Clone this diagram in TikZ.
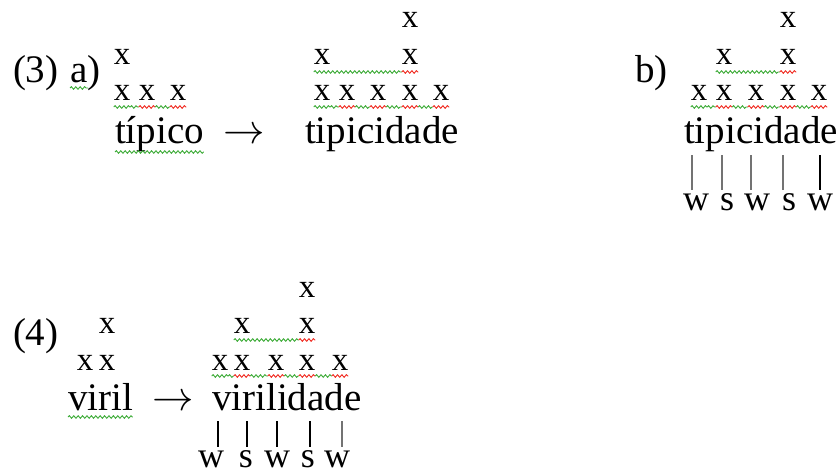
\documentclass[tikz,border=0pt]{standalone}
\usepackage{fontspec}
\setmainfont{Liberation Serif}
\usetikzlibrary{decorations.pathmorphing}
\definecolor{spellgreen}{HTML}{3AAA35}
\definecolor{spellred}{HTML}{F0281E}

\begin{document}
\begin{tikzpicture}[x=0.5pt, y=-0.5pt,
        txt/.style={inner sep=0pt, outer sep=0pt, anchor=base,
            font=\fontsize{19.5}{23}\selectfont},
        word/.style={txt, anchor=base west},
        gridx/.style={txt, font=\fontsize{16.5}{20}\selectfont},
        metlab/.style={txt, font=\fontsize{18}{21}\selectfont},
        squig/.style={draw=#1, line width=0.45pt, decorate,
            decoration={snake, segment length=2.2pt, amplitude=0.65pt}},
        bar/.style={draw=#1, line width=0.7pt}]
        \def\topy{28}
        \def\midy{65}
        \def\boty{101}
        \def\wordy{143}
        \def\greencol{spellgreen}
        \def\redcol{spellred}

        % page size
        \useasboundingbox (0, 0) rectangle (840, 476);

        % (3) a) tipico -> tipicidade
        \node [word] (numThree) at (13, 83) {(3)};
        \node [word] (labA) at (70, 83) {a)};
        \draw [squig=\greencol] ([yshift=-2.5pt]labA.base west) -- ++(18, 0);

        \node [word] (tipico) at (115, \wordy) {típico};
        \draw [squig=\greencol] ([yshift=-4.5pt]tipico.base west)
            -- ([yshift=-4.5pt]tipico.base east);
        \node [gridx] (tipTop) at (122, \midy) {x};
        \foreach \c [count=\i] in {122, 147, 178}
            \node [gridx] (tipBot\i) at (\c, \boty) {x};
        \draw [squig=\greencol] ([yshift=-3pt]tipBot1.base west)
            -- ([yshift=-3pt]tipBot1.base east);
        \foreach \i [remember=\i as \j (initially 1)] in {2, 3} {
            \draw [squig=\greencol] ([yshift=-3pt]tipBot\j.base east)
                -- ([yshift=-3pt]tipBot\i.base west);
            \draw [squig=\redcol] ([yshift=-3pt]tipBot\i.base west)
                -- ([yshift=-3pt]tipBot\i.base east);
        }

        \node [txt] (arrThree) at (244, \wordy) {$\rightarrow$};

        \node [word] (tipcA) at (305, \wordy) {tipicidade};
        \node [gridx] (tipcATop) at (410, \topy) {x};
        \foreach \c [count=\i] in {322, 410}
            \node [gridx] (tipcAMid\i) at (\c, \midy) {x};
        \draw [squig=\greencol] ([yshift=-3.5pt]tipcAMid1.base west)
            -- ([yshift=-3.5pt]tipcAMid2.base west);
        \draw [squig=\redcol] ([yshift=-3.5pt]tipcAMid2.base west)
            -- ([yshift=-3.5pt]tipcAMid2.base east);
        \foreach \c [count=\i] in {322, 347, 378, 410, 441}
            \node [gridx] (tipcABot\i) at (\c, \boty) {x};
        \draw [squig=\greencol] ([yshift=-3pt]tipcABot1.base west)
            -- ([yshift=-3pt]tipcABot1.base east);
        \foreach \i [remember=\i as \j (initially 1)] in {2, ..., 5} {
            \draw [squig=\greencol] ([yshift=-3pt]tipcABot\j.base east)
                -- ([yshift=-3pt]tipcABot\i.base west);
            \draw [squig=\redcol] ([yshift=-3pt]tipcABot\i.base west)
                -- ([yshift=-3pt]tipcABot\i.base east);
        }

        % b) tipicidade with w s w s w
        \node [word] (labB) at (635, 83) {b)};
        \node [word] (tipcB) at (684, \wordy) {tipicidade};
        \node [gridx] (tipcBTop) at (788, \topy) {x};
        \foreach \c [count=\i] in {724, 788}
            \node [gridx] (tipcBMid\i) at (\c, \midy) {x};
        \draw [squig=\greencol] ([yshift=-3.5pt]tipcBMid1.base west)
            -- ([yshift=-3.5pt]tipcBMid2.base west);
        \draw [squig=\redcol] ([yshift=-3.5pt]tipcBMid2.base west)
            -- ([yshift=-3.5pt]tipcBMid2.base east);
        \foreach \c [count=\i] in {699, 724, 756, 788, 819}
            \node [gridx] (tipcBBot\i) at (\c, \boty) {x};
        \draw [squig=\greencol] ([yshift=-3pt]tipcBBot1.base west)
            -- ([yshift=-3pt]tipcBBot1.base east);
        \foreach \i [remember=\i as \j (initially 1)] in {2, ..., 5} {
            \draw [squig=\greencol] ([yshift=-3pt]tipcBBot\j.base east)
                -- ([yshift=-3pt]tipcBBot\i.base west);
            \draw [squig=\redcol] ([yshift=-3pt]tipcBBot\i.base west)
                -- ([yshift=-3pt]tipcBBot\i.base east);
        }
        \foreach \c/\l [count=\i] in {696/w, 727/s, 757/w, 789/s, 820/w}
            \node [metlab] (metB\i) at (\c, 210) {\l};
        \foreach \c/\col [count=\i] in {692/black!55, 722/black!55, 751/black!55,
                783/black!55, 820/black} {
            \coordinate (barBTop\i) at (\c, 155);
            \draw [bar=\col] (barBTop\i) -- ([yshift=1.5pt]barBTop\i |- metB\i.north);
        }

        % (4) viril -> virilidade
        \node [word] (numFour) at (13, 345) {(4)};
        \node [word] (viril) at (68, 410) {viril};
        \draw [squig=\greencol] ([yshift=-3.5pt]viril.base west)
            -- ([yshift=-3.5pt]viril.base east);
        \node [gridx] (virTop) at (107, 333) {x};
        \foreach \c [count=\i] in {85, 107}
            \node [gridx] (virBot\i) at (\c, 370) {x};

        \node [txt] (arrFour) at (173, 410) {$\rightarrow$};

        \node [word] (virld) at (212, 410) {virilidade};
        \node [gridx] (virldTop) at (307, 297) {x};
        \foreach \c [count=\i] in {242, 307}
            \node [gridx] (virldMid\i) at (\c, 333) {x};
        \draw [squig=\greencol] ([yshift=-3.5pt]virldMid1.base west)
            -- ([yshift=-3.5pt]virldMid2.base west);
        \draw [squig=\redcol] ([yshift=-3.5pt]virldMid2.base west)
            -- ([yshift=-3.5pt]virldMid2.base east);
        \foreach \c [count=\i] in {220, 242, 276, 307, 340}
            \node [gridx] (virldBot\i) at (\c, 370) {x};
        \draw [squig=\greencol] ([yshift=-3pt]virldBot1.base west)
            -- ([yshift=-3pt]virldBot1.base east);
        \foreach \i [remember=\i as \j (initially 1)] in {2, ..., 5} {
            \draw [squig=\greencol] ([yshift=-3pt]virldBot\j.base east)
                -- ([yshift=-3pt]virldBot\i.base west);
            \draw [squig=\redcol] ([yshift=-3pt]virldBot\i.base west)
                -- ([yshift=-3pt]virldBot\i.base east);
        }
        \foreach \c/\l [count=\i] in {211/w, 246/s, 277/w, 308/s, 337/w}
            \node [metlab] (metV\i) at (\c, 467) {\l};
        \foreach \c/\col [count=\i] in {218/black, 247/black, 277/black,
                310/black, 342/black!55} {
            \coordinate (barVTop\i) at (\c, 421);
            \draw [bar=\col] (barVTop\i) -- ([yshift=1.5pt]barVTop\i |- metV\i.north);
        }
    \end{tikzpicture}
\end{document}
